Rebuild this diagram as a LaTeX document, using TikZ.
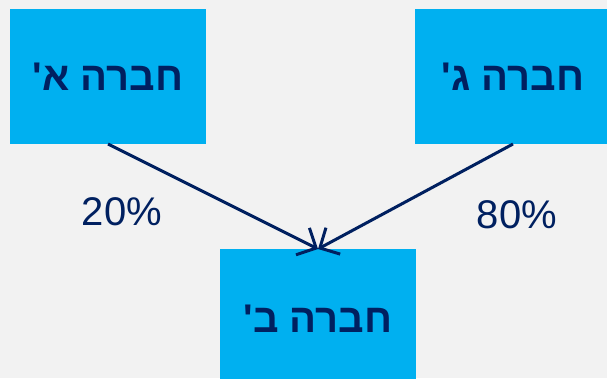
\documentclass[tikz,border=0pt]{standalone}
\usepackage{fontspec}
\setmainfont{Liberation Sans}
\newfontfamily\hebfont[Script=Hebrew]{Liberation Sans}
\TeXXeTstate=1
\usetikzlibrary{arrows.meta}
\definecolor{bgc}{HTML}{F2F2F2}
\definecolor{boxc}{HTML}{00B0F0}
\definecolor{navy}{HTML}{002060}
\begin{document}
\begin{tikzpicture}[x=1pt,y=-1pt,
  company/.style={fill=boxc,draw=none,minimum width=196pt,minimum height=135pt,inner sep=0pt,
    text=navy,font=\hebfont\bfseries\fontsize{40}{48}\selectfont},
  link/.style={draw=navy,line width=3pt,-{Straight Barb[length=15pt,width=30pt,line width=3pt]}},
  pct/.style={text=navy,font=\fontsize{40}{48}\selectfont}]
\fill[bgc] (0,0) rectangle (607,378);
\useasboundingbox (0,0) rectangle (607,378);
\node[company] (a) at (108,76.5) {\beginR חברה א'\endR};
\node[company] (g) at (513,76.5) {\beginR חברה ג'\endR};
\node[company,minimum height=140pt] (b) at (318,319) {\beginR חברה ב'\endR};
\coordinate (as) at (108,144);
\coordinate (gs) at (513,144);
\coordinate (bt) at (318,249);
\draw[link] (as) -- (bt);
\draw[link] (gs) -- (bt);
\node[pct] (p20) at (122,212) {20\%};
\node[pct] (p80) at (517,215) {80\%};
\end{tikzpicture}
\end{document}
